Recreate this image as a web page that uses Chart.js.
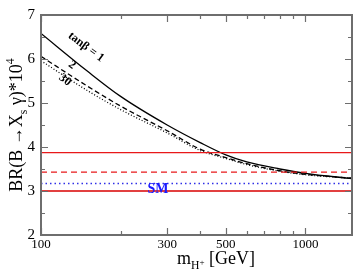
<!DOCTYPE html>
<html lang="en">
<head>
<meta charset="UTF-8">
<title>BR(B -> Xs gamma) vs charged Higgs mass</title>
<script src="https://cdn.jsdelivr.net/npm/chart.js"></script>
<style>
    html, body { margin: 0; padding: 0; background: #fff; }
    #wrap { width: 354px; height: 272px; }
</style>
</head>
<body>
<div id="wrap"><canvas id="chart" width="354" height="272"></canvas></div>
<script>
// charged Higgs mass in GeV
const masses = [100, 150, 200, 300, 400, 500, 600, 800, 1000, 1500];
// BR * 10^4 for each tan(beta)
const tanb1  = [6.58, 5.72, 5.15, 4.50, 4.10, 3.82, 3.66, 3.50, 3.40, 3.28];
const tanb2  = [6.06, 5.38, 4.93, 4.37, 3.95, 3.76, 3.62, 3.46, 3.38, 3.29];
const tanb30 = [5.96, 5.28, 4.85, 4.32, 3.92, 3.74, 3.60, 3.45, 3.37, 3.29];

// experimental band and SM value
const bandMass = [100, 1500];
const expUpper = 3.87;
const expCentral = 3.43;
const expLower = 3.0;
const smValue = 3.17;

const xTickValues = [100, 200, 300, 400, 500, 600, 700, 800, 900, 1000];
const xLabelled = [100, 300, 500, 1000];
const yMin = 2, yMax = 7;

const serif = '"Liberation Serif", "DejaVu Serif", serif';

function pts(xs, ys) {
    return xs.map((x, i) => ({ x: x, y: ys[i] }));
}
function flat(v) {
    return pts(bandMass, bandMass.map(() => v));
}

// draws text with sub/superscripts starting at x, baseline y
function richText(ctx, parts, x, y, size) {
    let cx = x;
    parts.forEach(p => {
        let s = size, dy = 0;
        if (p.sub) { s = size * 0.65; dy = size * 0.28; }
        if (p.sup) { s = size * 0.65; dy = -size * 0.45; }
        if (p.subsup) { s = size * 0.5; dy = size * 0.05; }
        ctx.font = s + 'px ' + serif;
        ctx.fillText(p.t, cx, y + dy);
        cx += ctx.measureText(p.t).width;
    });
    return cx - x;
}
function richWidth(ctx, parts, size) {
    let w = 0;
    parts.forEach(p => {
        let s = size;
        if (p.sub || p.sup) s = size * 0.65;
        if (p.subsup) s = size * 0.5;
        ctx.font = s + 'px ' + serif;
        w += ctx.measureText(p.t).width;
    });
    return w;
}

const decorations = {
    id: 'decorations',
    afterDraw(chart) {
        const ctx = chart.ctx;
        const a = chart.chartArea;
        const xs = chart.scales.x, ys = chart.scales.y;
        ctx.save();

        // frame
        ctx.strokeStyle = '#6e6e6e';
        ctx.lineWidth = 2;
        ctx.strokeRect(a.left, a.top, a.right - a.left, a.bottom - a.top);

        // inward ticks
        ctx.lineWidth = 1.2;
        ctx.beginPath();
        xTickValues.forEach(v => {
            const px = Math.round(xs.getPixelForValue(v)) + 0.5;
            const len = xLabelled.includes(v) ? 7 : 4;
            ctx.moveTo(px, a.bottom); ctx.lineTo(px, a.bottom - len);
            ctx.moveTo(px, a.top); ctx.lineTo(px, a.top + len);
        });
        for (let v = yMin; v <= yMax; v += 0.5) {
            const py = Math.round(ys.getPixelForValue(v)) + 0.5;
            const len = Number.isInteger(v) ? 7 : 4;
            ctx.moveTo(a.left, py); ctx.lineTo(a.left + len, py);
            ctx.moveTo(a.right, py); ctx.lineTo(a.right - len, py);
        }
        ctx.stroke();

        ctx.fillStyle = '#000';
        ctx.textBaseline = 'alphabetic';

        // y axis title
        const yParts = [{ t: 'BR(B ' }, { t: '\u2192X' }, { t: 's', sub: true }, { t: ' \u03b3)*10' }, { t: '4', sup: true }];
        const ySize = 18;
        const yw = richWidth(ctx, yParts, ySize);
        ctx.save();
        ctx.translate(22, 125);
        ctx.rotate(-Math.PI / 2);
        richText(ctx, yParts, -yw / 2, 0, ySize);
        ctx.restore();

        // x axis title
        const xParts = [{ t: 'm' }, { t: 'H', sub: true }, { t: '+', subsup: true }, { t: ' [GeV]' }];
        const xSize = 18;
        const xw = richWidth(ctx, xParts, xSize);
        richText(ctx, xParts, 216 - xw / 2, 264, xSize);

        // curve labels
        function rotLabel(txt, x, y, size, ang) {
            ctx.save();
            ctx.translate(x, y);
            ctx.rotate(ang);
            ctx.font = 'bold ' + size + 'px ' + serif;
            ctx.textAlign = 'center';
            ctx.textBaseline = 'middle';
            ctx.fillText(txt, 0, 0);
            ctx.restore();
        }
        const ang = 37 * Math.PI / 180;
        rotLabel('tan\u03b2 = 1', 86, 47, 12, ang);
        rotLabel('2', 72, 65, 12, ang);
        rotLabel('30', 65, 80, 12, ang);

        // SM label
        ctx.fillStyle = '#1a1aff';
        ctx.font = 'bold 14px ' + serif;
        ctx.textAlign = 'center';
        ctx.textBaseline = 'middle';
        ctx.fillText('SM', 158, 189);

        ctx.restore();
    }
};

new Chart(document.getElementById('chart'), {
    type: 'line',
    data: {
        datasets: [
            { data: flat(expUpper), borderColor: '#e8181a', borderWidth: 1.3 },
            { data: flat(expCentral), borderColor: '#e8181a', borderWidth: 1.3, borderDash: [6, 4] },
            { data: flat(expLower), borderColor: '#d80000', borderWidth: 1.3 },
            { data: flat(smValue), borderColor: '#3030e8', borderWidth: 1.5, borderDash: [1.5, 3] },
            { data: pts(masses, tanb1), borderColor: '#000', borderWidth: 1.3, cubicInterpolationMode: 'monotone' },
            { data: pts(masses, tanb2), borderColor: '#000', borderWidth: 1.3, borderDash: [5, 3], cubicInterpolationMode: 'monotone' },
            { data: pts(masses, tanb30), borderColor: '#000', borderWidth: 1.3, borderDash: [1, 2], cubicInterpolationMode: 'monotone' }
        ]
    },
    options: {
        responsive: false,
        animation: false,
        events: [],
        layout: { padding: { top: 5, right: 2, left: 0, bottom: 0 } },
        elements: { point: { radius: 0 } },
        plugins: { legend: { display: false }, tooltip: { enabled: false } },
        scales: {
            x: {
                type: 'logarithmic',
                min: 100,
                max: 1500,
                grid: { display: false, drawTicks: false },
                border: { display: false },
                afterBuildTicks: s => { s.ticks = xTickValues.map(v => ({ value: v })); },
                afterFit: s => { s.height = 37; },
                ticks: {
                    autoSkip: false,
                    maxRotation: 0,
                    padding: 2,
                    color: '#000',
                    font: { family: serif, size: 13 },
                    callback: v => xLabelled.includes(v) ? String(v) : ''
                }
            },
            y: {
                min: yMin,
                max: yMax,
                grid: { display: false, drawTicks: false },
                border: { display: false },
                afterFit: s => { s.width = 41; },
                ticks: {
                    stepSize: 0.5,
                    padding: 6,
                    color: '#000',
                    font: { family: serif, size: 15 },
                    callback: v => Number.isInteger(v) ? String(v) : ''
                }
            }
        }
    },
    plugins: [decorations]
});
</script>
</body>
</html>
